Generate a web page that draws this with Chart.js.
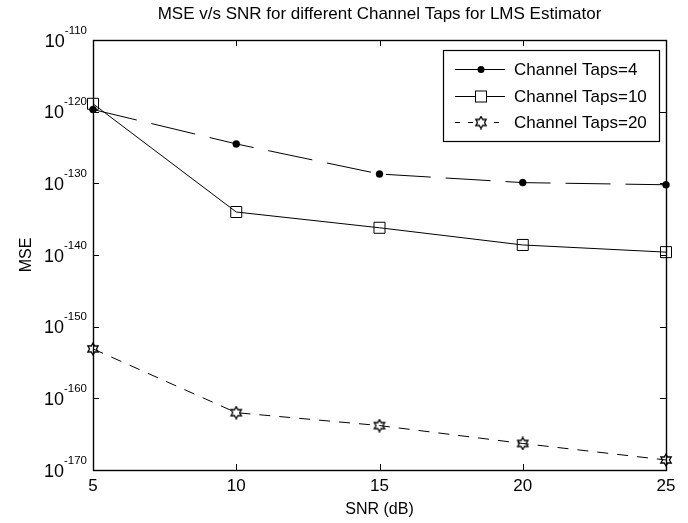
<!DOCTYPE html>
<html><head><meta charset="utf-8">
<script src="https://cdn.jsdelivr.net/npm/chart.js@4"></script>
<style>html,body{margin:0;padding:0;background:#fff}</style>
</head><body>
<canvas id="c" width="688" height="523" style="width:688px;height:523px;display:block"></canvas>
<script>
const snr = [5, 10, 15, 20, 25];
const mseTaps4  = [-119.7, -124.5, -128.7, -129.9, -130.2];
const mseTaps10 = [-118.9, -134.0, -136.2, -138.6, -139.6];
const mseTaps20 = [-153.1, -162.0, -163.8, -166.3, -168.6];
const seriesNames = ['Channel Taps=4', 'Channel Taps=10', 'Channel Taps=20'];
const xTickValues = [5, 10, 15, 20, 25];
const yTickExponents = [-170, -160, -150, -140, -130, -120, -110];

const FONT = '"Liberation Sans", Arial, Helvetica, sans-serif';

function hexagram(size) {
  const c = document.createElement('canvas');
  c.width = c.height = size;
  const g = c.getContext('2d');
  const cx = size / 2, cy = size / 2, R = size / 2 - 1, r = R / Math.sqrt(3);
  g.beginPath();
  for (let i = 0; i < 12; i++) {
    const a = -Math.PI / 2 + i * Math.PI / 6;
    const rad = i % 2 === 0 ? R : r;
    const x = cx + rad * Math.cos(a), y = cy + rad * Math.sin(a);
    if (i) g.lineTo(x, y); else g.moveTo(x, y);
  }
  g.closePath();
  g.strokeStyle = '#000';
  g.lineWidth = 1.3;
  g.stroke();
  return c;
}
const starImg = hexagram(14);

function pts(ys) { return snr.map((x, i) => ({ x, y: ys[i] })); }

const datasets = [
  { label: seriesNames[0], data: pts(mseTaps4), borderColor: '#000', borderWidth: 1,
    borderDash: [45, 15], pointStyle: 'circle', pointRadius: 3.5, pointBackgroundColor: '#000',
    pointBorderColor: '#000', pointBorderWidth: 0.5, fill: false, tension: 0, clip: false },
  { label: seriesNames[1], data: pts(mseTaps10), borderColor: '#000', borderWidth: 1,
    borderDash: [], pointStyle: 'rect', pointRadius: 7.8, pointBackgroundColor: 'rgba(0,0,0,0)',
    pointBorderColor: '#000', pointBorderWidth: 1, fill: false, tension: 0, clip: false },
  { label: seriesNames[2], data: pts(mseTaps20), borderColor: '#000', borderWidth: 1,
    borderDash: [11, 9], pointStyle: starImg, pointRadius: 7, pointBackgroundColor: 'rgba(0,0,0,0)',
    pointBorderColor: '#000', pointBorderWidth: 1, fill: false, tension: 0, clip: false }
];

const matlabAxes = {
  id: 'matlabAxes',
  beforeDatasetsDraw(chart) {
    const ctx = chart.ctx, { left, right, top, bottom } = chart.chartArea;
    const xs = chart.scales.x, ys = chart.scales.y;
    ctx.save();
    ctx.strokeStyle = '#000';
    ctx.lineWidth = 1;
    ctx.beginPath();
    xs.ticks.forEach(t => {
      const px = Math.round(xs.getPixelForValue(t.value)) + 0.5;
      ctx.moveTo(px, bottom); ctx.lineTo(px, bottom - 6);
      ctx.moveTo(px, top); ctx.lineTo(px, top + 6);
    });
    ys.ticks.forEach(t => {
      const py = Math.round(ys.getPixelForValue(t.value)) + 0.5;
      ctx.moveTo(left, py); ctx.lineTo(left + 6, py);
      ctx.moveTo(right, py); ctx.lineTo(right - 6, py);
    });
    ctx.stroke();
    ctx.lineWidth = 1.4;
    ctx.strokeRect(Math.round(left) + 0.5, Math.round(top) + 0.5, Math.round(right - left), Math.round(bottom - top));
    ctx.restore();
  },
  afterDraw(chart) {
    const ctx = chart.ctx, { left, right, top } = chart.chartArea;
    const ys = chart.scales.y;
    ctx.save();
    ctx.fillStyle = '#000';
    ctx.textAlign = 'left';
    ctx.textBaseline = 'alphabetic';
    // y tick labels as 10^exp
    ys.ticks.forEach(t => {
      const py = ys.getPixelForValue(t.value);
      const exp = String(t.value);
      ctx.font = '11.5px ' + FONT;
      const we = ctx.measureText(exp).width;
      ctx.font = '18px ' + FONT;
      const wb = ctx.measureText('10').width;
      const xr = left - 6;
      ctx.fillText('10', xr - we - wb, py + 6.7);
      ctx.font = '11.5px ' + FONT;
      ctx.fillText(exp, xr - we, py - 6.5);
    });
    // legend
    const lw = 216, lh = 91;
    const lx = right - 7 - lw, ly = top + 10;
    ctx.fillStyle = '#fff';
    ctx.fillRect(lx, ly, lw, lh);
    ctx.strokeStyle = '#000';
    ctx.lineWidth = 1.2;
    ctx.strokeRect(Math.round(lx) + 0.5, Math.round(ly) + 0.5, lw, lh);
    const rows = [19, 45.5, 72];
    chart.data.datasets.forEach((ds, i) => {
      const yy = Math.round(ly + rows[i]) + 0.5;
      const mx = lx + 38;
      ctx.save();
      ctx.strokeStyle = '#000';
      ctx.lineWidth = 1;
      ctx.setLineDash(i === 2 ? [5, 8] : []);
      ctx.beginPath();
      ctx.moveTo(lx + 12, yy); ctx.lineTo(lx + 62, yy);
      ctx.stroke();
      ctx.restore();
      ctx.strokeStyle = '#000';
      ctx.lineWidth = ds.pointBorderWidth;
      ctx.beginPath();
      if (ds.pointStyle === 'circle') {
        ctx.fillStyle = '#000'; ctx.arc(mx, yy, ds.pointRadius, 0, Math.PI * 2); ctx.fill();
      } else if (ds.pointStyle === 'rect') {
        const s = ds.pointRadius * Math.SQRT1_2;
        ctx.fillStyle = '#fff'; ctx.fillRect(mx - s, yy - s, 2 * s, 2 * s); ctx.strokeRect(mx - s, yy - s, 2 * s, 2 * s);
      } else {
        ctx.fillStyle = '#fff'; ctx.fillRect(mx - 5, yy - 5, 10, 10);
        ctx.drawImage(ds.pointStyle, mx - ds.pointStyle.width / 2, yy - ds.pointStyle.height / 2);
      }
      ctx.fillStyle = '#000';
      ctx.font = '17px ' + FONT;
      ctx.textBaseline = 'middle';
      ctx.fillText(ds.label, lx + 71, yy + 1);
    });
    ctx.restore();
  }
};

new Chart(document.getElementById('c'), {
  type: 'line',
  data: { datasets },
  options: {
    responsive: false,
    animation: false,
    devicePixelRatio: 1,
    layout: { padding: { left: 0, right: 22, top: 0, bottom: 0 } },
    plugins: {
      legend: { display: false },
      tooltip: { enabled: false },
      title: {
        display: true,
        fullSize: false,
        text: 'MSE v/s SNR for different Channel Taps for LMS Estimator',
        color: '#000',
        font: { family: FONT, size: 17, weight: 'normal' },
        padding: { top: 4, bottom: 15.6 }
      }
    },
    scales: {
      x: {
        type: 'linear', min: 5, max: 25,
        afterBuildTicks: s => { s.ticks = xTickValues.map(v => ({ value: v })); },
        afterFit: s => { s.height = 53; },
        grid: { display: false, drawTicks: false, tickLength: 0 },
        border: { display: false },
        ticks: { color: '#000', padding: 6.5, font: { family: FONT, size: 17 }, maxRotation: 0 },
        title: { display: true, text: 'SNR (dB)', color: '#000', font: { family: FONT, size: 16 }, padding: { top: 0, bottom: 3.6 } }
      },
      y: {
        type: 'linear', min: -170, max: -110,
        afterBuildTicks: s => { s.ticks = yTickExponents.map(v => ({ value: v })); },
        afterFit: s => { s.width = 93; },
        grid: { display: false, drawTicks: false, tickLength: 0 },
        border: { display: false },
        ticks: { display: false },
        title: { display: true, text: 'MSE', color: '#000', font: { family: FONT, size: 16 }, padding: { top: 16.6, bottom: 0 } }
      }
    }
  },
  plugins: [matlabAxes]
});
</script>
</body></html>
